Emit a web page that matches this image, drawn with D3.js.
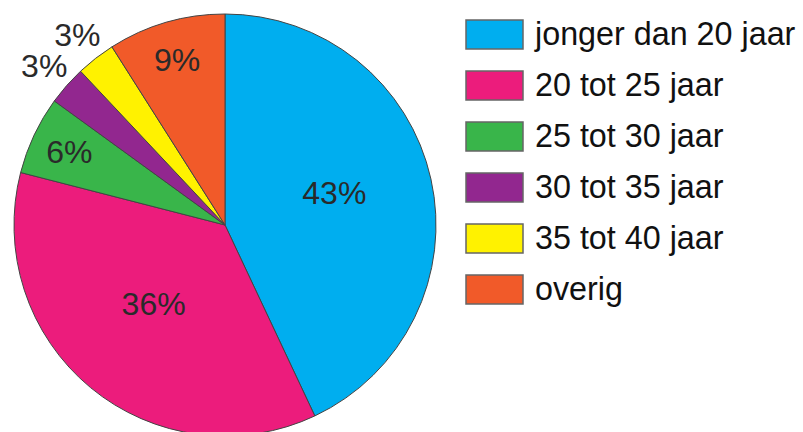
<!DOCTYPE html>
<html>
<head>
<meta charset="utf-8">
<script src="https://cdn.jsdelivr.net/npm/d3@7"></script>
<style>
  body { margin: 0; background: #fff; }
  svg { display: block; font-family: "Liberation Sans", Arial, sans-serif; }
</style>
</head>
<body>
<svg id="chart"></svg>
<script>
var categories = ["jonger dan 20 jaar", "20 tot 25 jaar", "25 tot 30 jaar", "30 tot 35 jaar", "35 tot 40 jaar", "overig"];
var values = [43, 36, 6, 3, 3, 9];
var colors = ["#00aeef", "#ec1c7c", "#39b54a", "#92278f", "#fff200", "#f15a29"];

var w = 803;
var h = 432;
var cx = 225, cy = 225, r = 211;

var svg = d3.select("#chart")
  .attr("width", w)
  .attr("height", h);

var data = categories.map(function(c, i) { return {name: c, value: values[i], color: colors[i]}; });

var pie = d3.pie()
  .sort(null)
  .value(function(d) { return d.value; });

var arc = d3.arc().innerRadius(0).outerRadius(r);

var arcs = pie(data);

var g = svg.append("g")
  .attr("transform", "translate(" + cx + "," + cy + ")");

g.selectAll("path")
  .data(arcs)
  .enter()
  .append("path")
  .attr("d", arc)
  .attr("fill", function(d) { return d.data.color; })
  .attr("stroke", "#444")
  .attr("stroke-width", 1);

// labels: big slices inside near middle, medium slices further out, tiny ones outside
function labelRadius(v) {
  if (v >= 20) return 112;
  if (v >= 5) return 172;
  return 241;
}

g.selectAll("text")
  .data(arcs)
  .enter()
  .append("text")
  .attr("transform", function(d) {
    var a = (d.startAngle + d.endAngle) / 2;
    var lr = labelRadius(d.data.value);
    var up = d.data.value >= 20 ? -8 : 0;
    return "translate(" + (lr * Math.sin(a)) + "," + (-lr * Math.cos(a) + up) + ")";
  })
  .attr("text-anchor", "middle")
  .attr("dy", "0.36em")
  .attr("font-size", 32)
  .attr("fill", "#2a2a2a")
  .text(function(d) { return d.data.value + "%"; });

// legend
var legend = svg.append("g")
  .attr("transform", "translate(466,20)");

var row = legend.selectAll("g")
  .data(data)
  .enter()
  .append("g")
  .attr("transform", function(d, i) { return "translate(0," + (i * 51) + ")"; });

row.append("rect")
  .attr("width", 57)
  .attr("height", 29)
  .attr("fill", function(d) { return d.color; })
  .attr("stroke", "#666")
  .attr("stroke-width", 1.5);

row.append("text")
  .attr("x", 69)
  .attr("y", 25)
  .attr("font-size", 32.3)
  .attr("fill", "#111")
  .text(function(d) { return d.name; });
</script>
</body>
</html>
